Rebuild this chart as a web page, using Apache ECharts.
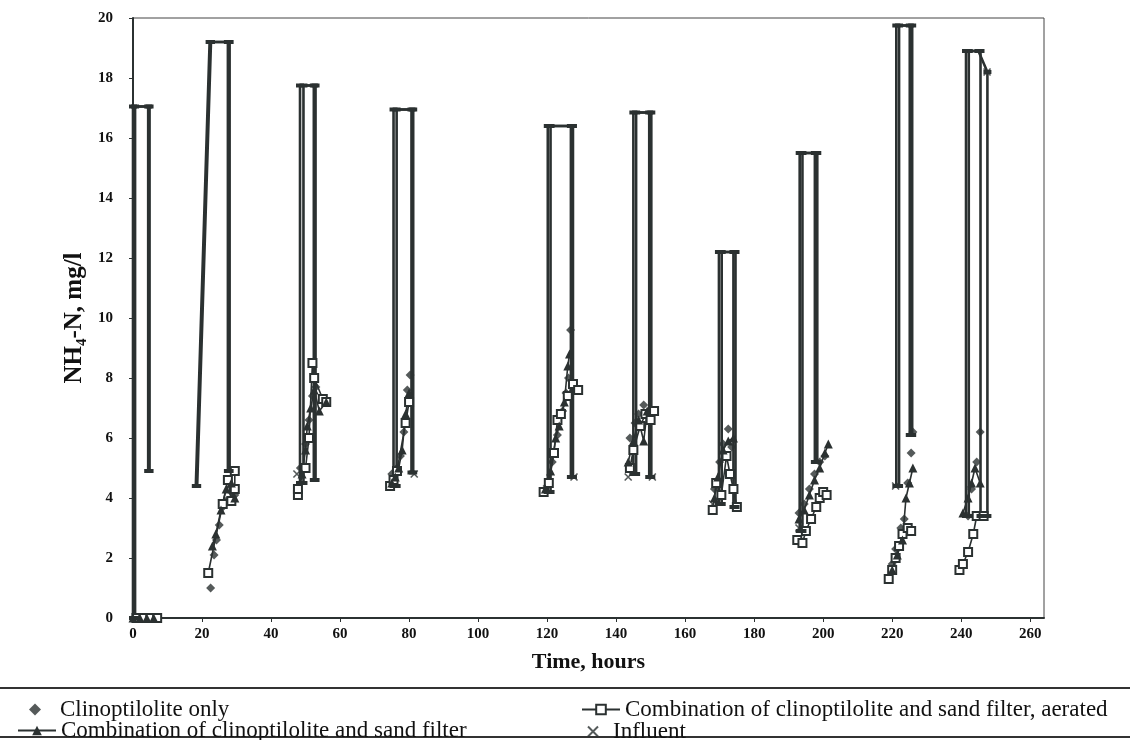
<!DOCTYPE html>
<html>
<head>
<meta charset="utf-8">
<script src="https://cdn.jsdelivr.net/npm/echarts@6/dist/echarts.min.js"></script>
<style>
  html, body { margin: 0; padding: 0; background: #fff; }
  #chart { width: 1130px; height: 740px; }
</style>
</head>
<body>
<div id="chart"></div>
<script>
// names
var nameClino = 'Clinoptilolite only';
var nameSand = 'Combination of clinoptilolite and sand filter';
var nameAer = 'Combination of clinoptilolite and sand filter, aerated';
var nameInf = 'Influent';

// x / y ticks
var xTicks = [0, 20, 40, 60, 80, 100, 120, 140, 160, 180, 200, 220, 240, 260];
var yTicks = [0, 2, 4, 6, 8, 10, 12, 14, 16, 18, 20];

// outline of each run, aerated series (null = break between runs)
var aerLine = [
  [0.6, 0], [0.6, 17.05], [4.8, 17.05], [4.8, 4.9], null,
  [18.6, 4.4], [22.6, 19.2], [28.0, 19.2], [28.0, 4.9], null,
  [49.4, 4.5], [49.4, 17.75], [52.9, 17.75], [52.9, 4.6], null,
  [76.4, 4.4], [76.4, 16.95], [81.2, 16.95], [81.2, 4.85], null,
  [121.0, 4.2], [121.0, 16.4], [127.5, 16.4], [127.5, 4.7], null,
  [145.8, 4.8], [145.8, 16.85], [150.2, 16.85], [150.2, 4.7], null,
  [170.6, 3.8], [170.6, 12.2], [174.6, 12.2], [174.6, 3.7], null,
  [194.0, 2.9], [194.0, 15.5], [198.3, 15.5], [198.3, 5.2], null,
  [222.0, 4.4], [222.0, 19.75], [225.8, 19.75], [225.8, 6.1], null,
  [242.2, 3.4], [242.2, 18.9], [245.6, 18.9], [245.6, 3.4]
];

// outline of each run, non aerated series
var sandLine = [
  [0, 0], [0, 17.05], [4.4, 17.05], [4.4, 4.9], null,
  [18.2, 4.4], [22.2, 19.2], [27.5, 19.2], [27.5, 4.9], null,
  [48.4, 4.5], [48.4, 17.75], [52.4, 17.75], [52.4, 4.6], null,
  [75.5, 4.4], [75.5, 16.95], [80.7, 16.95], [80.7, 4.85], null,
  [120.2, 4.2], [120.2, 16.4], [126.9, 16.4], [126.9, 4.7], null,
  [145.0, 4.8], [145.0, 16.85], [149.6, 16.85], [149.6, 4.7], null,
  [169.8, 3.8], [169.8, 12.2], [174.0, 12.2], [174.0, 3.7], null,
  [193.2, 2.9], [193.2, 15.5], [197.6, 15.5], [197.6, 5.2], null,
  [221.2, 4.4], [221.2, 19.75], [225.1, 19.75], [225.1, 6.1], null,
  [241.4, 3.4], [241.4, 18.9], [245.0, 18.9], [247.6, 18.2], [247.6, 3.4]
];

// measured points, aerated (squares)
var aerPts = [
  [1, 0], [3, 0], [5, 0], [7, 0], null,
  [21.8, 1.5], [26, 3.8], [27.5, 4.6], [28.5, 3.9], [29.5, 4.3], [29.5, 4.9], null,
  [47.8, 4.1], [47.8, 4.3], [50, 5.0], [51, 6.0], [52, 8.5], [52.5, 8.0], [55, 7.3], [56, 7.2], null,
  [74.5, 4.4], [75.5, 4.6], [76.5, 4.9], [79, 6.5], [80, 7.2], null,
  [119, 4.2], [120.5, 4.5], [122, 5.5], [123, 6.6], [124, 6.8], [126, 7.4], [127.5, 7.8], [129, 7.6], null,
  [144, 5.0], [145, 5.6], [147, 6.4], [148.5, 6.8], [150, 6.6], [151, 6.9], null,
  [168, 3.6], [169, 4.5], [170.5, 4.1], [172, 5.4], [173, 4.8], [174, 4.3], [175, 3.7], null,
  [192.5, 2.6], [194, 2.5], [195, 2.9], [196.5, 3.3], [198, 3.7], [199, 4.0], [200, 4.2], [201, 4.1], null,
  [219, 1.3], [220, 1.6], [221, 2.0], [222, 2.4], [223, 2.8], [224.5, 3.0], [225.5, 2.9], null,
  [239.5, 1.6], [240.5, 1.8], [242, 2.2], [243.5, 2.8], [244.5, 3.4], [246.5, 3.4]
];

// measured points, sand filter (triangles)
var sandPts = [
  [0, 0], [2, 0], [4, 0], [6, 0], null,
  [23, 2.4], [24, 2.8], [25.5, 3.6], [27, 4.3], [28.5, 4.5], [29.5, 4.0], null,
  [49, 4.8], [50, 5.6], [50.5, 6.4], [51.5, 7.0], [52.5, 7.6], [54, 6.9], [56, 7.2], null,
  [75, 4.5], [76, 4.7], [77, 5.0], [78, 5.6], [79, 6.8], [80, 7.5], null,
  [119.5, 4.3], [121, 4.9], [122.5, 6.0], [123.5, 6.4], [125, 7.2], [126, 8.4], [126.5, 8.8], null,
  [143.5, 5.2], [145, 5.9], [146.5, 6.6], [148, 5.9], [149, 6.9], null,
  [168.5, 4.0], [169.5, 4.7], [171, 5.6], [172.5, 5.9], [174, 6.0], null,
  [193, 3.3], [194.5, 3.6], [196, 4.1], [197.5, 4.6], [199, 5.0], [200.5, 5.5], [201.5, 5.8], null,
  [220, 1.6], [221.5, 2.1], [223, 2.6], [224, 4.0], [225, 4.5], [226, 5.0], null,
  [240.5, 3.5], [242, 4.0], [243, 4.5], [244, 5.0], [245.5, 4.5]
];

// clinoptilolite only (diamonds)
var clinoPts = [
  [0.5, 0], [2.5, 0], [4.5, 0], [6.5, 0],
  [22.5, 1.0], [23.5, 2.1], [24.2, 2.6], [25, 3.1], [26, 3.7], [27, 3.9], [28.5, 4.2], [29.5, 4.1],
  [48.5, 5.0], [50, 5.8], [51, 6.6], [52, 7.4], [53, 7.7],
  [75, 4.8], [76.5, 5.0], [77.5, 5.4], [78.5, 6.2], [79.5, 7.6], [80.3, 8.1],
  [120, 4.4], [121.5, 5.2], [123, 6.1], [124.5, 6.9], [125.5, 7.5], [126.2, 8.0], [126.8, 9.6],
  [144, 6.0], [145.5, 6.5], [146.5, 6.8], [148, 7.1],
  [168.5, 4.3], [170, 5.2], [171, 5.8], [172.5, 6.3], [173.5, 5.7],
  [193, 3.5], [194.5, 3.8], [196, 4.3], [197.5, 4.8], [199, 5.2], [200.5, 5.4],
  [220, 1.8], [221, 2.3], [222.5, 3.0], [223.5, 3.3], [224.5, 4.5], [225.5, 5.5], [226, 6.2],
  [242, 3.4], [243, 4.3], [244.5, 5.2], [245.5, 6.2]
];

// influent (crosses)
var infPts = [
  [47.5, 4.8], [81.5, 4.8], [127.8, 4.7], [143.5, 4.7], [150.5, 4.7],
  [168, 3.8], [193, 3.0], [221, 4.4], [247.5, 18.2]
];

var ink = '#2b3131';
var serif = 'Liberation Serif';
var crossPath = 'path://M0,0L10,10M10,0L0,10';

function gaps(arr) {
  return arr.map(function (p) { return p === null ? ['-', '-'] : p; });
}

var myChart = echarts.init(document.getElementById('chart'));

var legendText = { fontFamily: serif, fontSize: 23, color: '#111' };

myChart.setOption({
  backgroundColor: '#fff',
  animation: false,
  grid: {
    left: 133,
    top: 18,
    width: 911,
    height: 600,
    show: true,
    borderColor: '#444',
    borderWidth: 1
  },
  legend: [
    { data: [nameClino], left: 24, top: 693, itemWidth: 12, itemHeight: 12,
      textStyle: Object.assign({ padding: [0, 0, 0, 14] }, legendText) },
    { data: [nameSand], left: 12, top: 714, itemWidth: 38, itemHeight: 12, textStyle: legendText },
    { data: [nameAer], left: 576, top: 693, itemWidth: 38, itemHeight: 12, textStyle: legendText },
    { data: [nameInf], left: 582, top: 715, itemWidth: 30, itemHeight: 10, textStyle: legendText }
  ],
  xAxis: {
    type: 'value',
    min: xTicks[0],
    max: 264,
    interval: 20,
    name: 'Time, hours',
    nameLocation: 'middle',
    nameGap: 33,
    nameTextStyle: { fontFamily: serif, fontWeight: 'bold', fontSize: 22, color: '#111' },
    axisLine: { lineStyle: { color: ink, width: 2 } },
    axisTick: { show: true, length: 4, lineStyle: { color: ink } },
    axisLabel: { fontFamily: serif, fontWeight: 'bold', fontSize: 15, color: '#111', margin: 9, showMaxLabel: false },
    splitLine: { show: false }
  },
  yAxis: {
    type: 'value',
    min: yTicks[0],
    max: yTicks[yTicks.length - 1],
    interval: 2,
    name: 'NH\u2084-N, mg/l',
    nameLocation: 'middle',
    nameGap: 46,
    nameRotate: 90,
    nameTextStyle: { fontFamily: serif, fontWeight: 'bold', fontSize: 25, color: '#111' },
    axisLine: { lineStyle: { color: ink, width: 2 } },
    axisTick: { show: true, length: 4, lineStyle: { color: ink } },
    axisLabel: { fontFamily: serif, fontWeight: 'bold', fontSize: 15, color: '#111', margin: 20 },
    splitLine: { show: false }
  },
  graphic: [
    { type: 'line', shape: { x1: 0, y1: 688, x2: 1130, y2: 688 }, style: { stroke: '#333', lineWidth: 2 } },
    { type: 'line', shape: { x1: 0, y1: 737, x2: 1130, y2: 737 }, style: { stroke: '#333', lineWidth: 2 } }
  ],
  series: [
    {
      // points first so the legend takes its symbol from them
      name: nameAer,
      type: 'line',
      data: gaps(aerPts),
      symbol: 'rect',
      symbolSize: 8,
      lineStyle: { color: ink, width: 1.6 },
      itemStyle: { color: '#fff', borderColor: ink, borderWidth: 2 }
    },
    {
      name: nameSand,
      type: 'line',
      data: gaps(sandPts),
      symbol: 'triangle',
      symbolSize: 9,
      lineStyle: { color: ink, width: 1.6 },
      itemStyle: { color: ink }
    },
    {
      name: nameAer,
      type: 'line',
      data: gaps(aerLine),
      symbol: 'rect',
      symbolSize: [8, 4],
      lineStyle: { color: ink, width: 2.6 },
      itemStyle: { color: ink }
    },
    {
      name: nameSand,
      type: 'line',
      data: gaps(sandLine),
      symbol: 'rect',
      symbolSize: [8, 4],
      lineStyle: { color: ink, width: 2.6 },
      itemStyle: { color: ink }
    },
    {
      name: nameClino,
      type: 'scatter',
      data: clinoPts,
      symbol: 'diamond',
      symbolSize: 9,
      itemStyle: { color: ink }
    },
    {
      name: nameInf,
      type: 'scatter',
      data: infPts,
      symbol: crossPath,
      symbolSize: 7,
      itemStyle: { color: 'transparent', borderColor: ink, borderWidth: 1.6 }
    }
  ]
});
</script>
</body>
</html>
